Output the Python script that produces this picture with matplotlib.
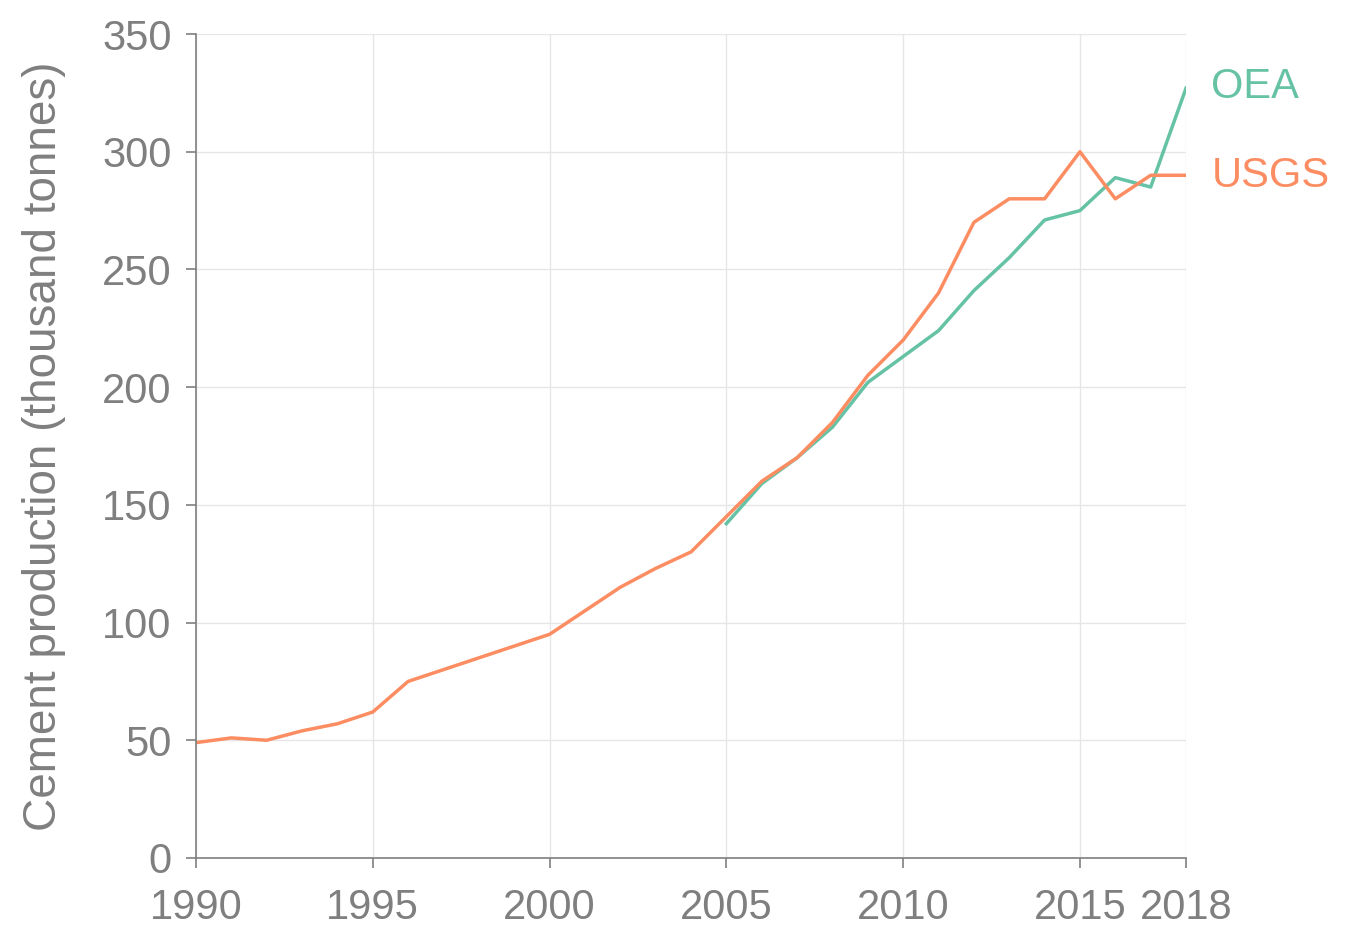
import matplotlib.pyplot as plt

usgs_years = list(range(1990, 2019))
usgs_vals = [49, 51, 50, 54, 57, 62, 75, 80, 85, 90, 95, 105, 115, 123, 130,
             145, 160, 170, 185, 205, 220, 240, 270, 280, 280, 300, 280, 290, 290]

oea_years = list(range(2005, 2019))
oea_vals = [142, 159, 170, 183, 202, 213, 224, 241, 255, 271, 275, 289, 285, 327]

green = '#66c2a5'
orange = '#fc8d62'
grey = '#7f7f7f'

plt.rcParams['font.family'] = ['Liberation Sans', 'DejaVu Sans']

fig = plt.figure(figsize=(13.47, 9.35), dpi=100)
ax = fig.add_axes([0.1455, 0.0824, 0.735, 0.8812])

ax.plot(oea_years, oea_vals, color=green, lw=2.5)
ax.plot(usgs_years, usgs_vals, color=orange, lw=2.5)

# direct labels at line ends
ax.text(oea_years[-1] + 0.72, oea_vals[-1] + 0.5, 'OEA', color=green,
        fontsize=30, va='center', ha='left', clip_on=False)
ax.text(usgs_years[-1] + 0.72, usgs_vals[-1] - 0.5, 'USGS', color=orange,
        fontsize=30, va='center', ha='left', clip_on=False)

ax.set_xlim(1990, 2018)
ax.set_ylim(0, 350)
ax.set_xticks([1990, 1995, 2000, 2005, 2010, 2015, 2018])
ax.set_yticks(range(0, 351, 50))
ax.grid(True, color='#e6e6e6', lw=1)
ax.set_axisbelow(True)

for s in ['top', 'right']:
    ax.spines[s].set_visible(False)
for s in ['left', 'bottom']:
    ax.spines[s].set_color(grey)
    ax.spines[s].set_linewidth(1.2)

ax.tick_params(colors=grey, labelsize=30, length=7.5, width=1.2, direction='out')
ax.tick_params(axis='x', pad=14)
ax.tick_params(axis='y', pad=10)
ax.set_ylabel('Cement production (thousand tonnes)', color=grey, fontsize=33, labelpad=26)

fig.savefig('out.png', dpi=100)
